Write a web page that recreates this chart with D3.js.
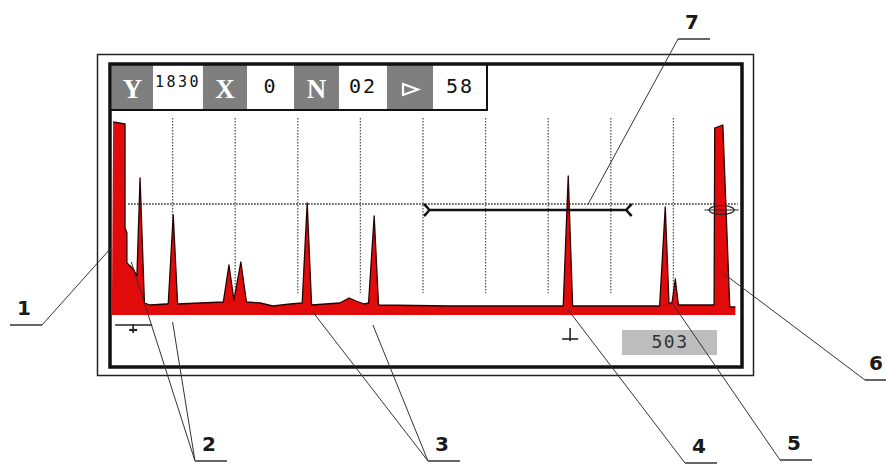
<!DOCTYPE html>
<html lang="en">
<head>
	<meta charset="utf-8">
	<title>Flaw detector A-scan</title>
	<script src="https://d3js.org/d3.v7.min.js"></script>
	<style>
		body { margin: 0; background: #fff; }
		svg { display: block; }
	</style>
</head>
<body>
<script>
	// screen values (x in grid divisions, y in % screen height)
	var traceX = [0.03, 0.05, 0.24, 0.24, 0.27, 0.27, 0.34, 0.38, 0.43, 0.48, 0.55, 0.64, 0.90, 0.93, 1.01, 1.08,
		1.81, 1.90, 1.98, 2.09, 2.18, 2.40, 2.60, 2.88, 3.07, 3.15, 3.22, 3.67, 3.82, 3.93, 4.06, 4.13, 4.22, 4.29,
		5.43, 7.24, 7.32, 7.39, 8.78, 8.87, 8.93, 8.98, 9.03, 9.08, 9.65, 9.66, 9.79, 9.90, 9.99];
	var traceY = [0, 96.5, 95.5, 43.5, 41, 26, 24, 22.5, 19.5, 68.5, 6, 5, 5.5, 5.5, 50, 5.5,
		6.5, 25, 7.5, 26.5, 6.5, 6, 4.5, 5.5, 6, 56, 5, 6, 8.5, 7, 5.5, 6, 49.5, 5,
		4.5, 4.5, 69.5, 4.5, 4.5, 54, 5.5, 6.5, 18, 5, 5, 93.5, 95, 4, 4];
	var gridDivs = [1, 2, 3, 4, 5, 6, 7, 8, 9];
	var thresholdLevel = 55.5;
	var gateStart = 5.08, gateEnd = 8.27, gateLevel = 52.5;
	var cursorDiv = 9.77, cursorLevel = 52.5;
	var baseMarkers = [0.37, 7.35];

	// header readout
	var headerLabels = ["Y", "1830", "X", "0", "N", "02", "\u25B7", "58"];
	var headerIsKey = [true, false, true, false, true, false, true, false];
	var readout = "503";

	// callouts: label, text position, targets in [div, level]
	var callLabels = ["1", "2", "3", "4", "5", "6", "7"];
	var callAnchors = [[42, 325, -1], [195, 461, 1], [428, 461, 1], [685, 463, 1], [780, 460, 1], [865, 380, 1], [678, 39, 1]];
	var callTargets = [
		[[0.03, 34]],
		[[0.34, 26.5], [1.0, -3.5]],
		[[3.24, 1.5], [4.2, -5]],
		[[7.32, 2.5]],
		[[8.98, 6]],
		[[9.79, 21]],
		[[7.63, 55]]
	];

	var w = 886, h = 464;
	var svg = d3.select("body").append("svg")
		.attr("width", w)
		.attr("height", h);

	var x = d3.scaleLinear().domain([0, 10]).range([110, 736]);
	var y = d3.scaleLinear().domain([0, 100]).range([315, 115]);

	// frames
	svg.append("rect")
		.attr("x", 97.5).attr("y", 54.5).attr("width", 656).attr("height", 321)
		.attr("fill", "none").attr("stroke", "#222").attr("stroke-width", 1.5);

	// grid
	svg.append("g").selectAll("line")
		.data(gridDivs)
		.enter().append("line")
		.attr("x1", function(d){ return x(d); })
		.attr("x2", function(d){ return x(d); })
		.attr("y1", y(98.5))
		.attr("y2", y(11))
		.attr("stroke", "#555")
		.attr("stroke-width", 1.3)
		.attr("stroke-dasharray", "1.5,1.5");

	svg.append("line")
		.attr("x1", x(0.29)).attr("x2", x(10.03))
		.attr("y1", y(thresholdLevel)).attr("y2", y(thresholdLevel))
		.attr("stroke", "#222").attr("stroke-width", 1.3)
		.attr("stroke-dasharray", "1.5,1.5");

	// trace
	var pts = traceX.map(function(d, i){ return [d, traceY[i]]; });
	var area = d3.area()
		.x(function(d){ return x(d[0]); })
		.y0(y(0))
		.y1(function(d){ return y(d[1]); });
	var line = d3.line()
		.x(function(d){ return x(d[0]); })
		.y(function(d){ return y(d[1]); });

	svg.append("path")
		.datum(pts)
		.attr("d", area)
		.attr("fill", "#e10b0b");
	svg.append("path")
		.datum(pts.slice(1))
		.attr("d", line)
		.attr("fill", "none")
		.attr("stroke", "#2a0000")
		.attr("stroke-width", 1.3)
		.attr("stroke-linejoin", "round");

	// gate
	var gy = y(gateLevel);
	svg.append("line")
		.attr("x1", x(gateStart)).attr("x2", x(gateEnd))
		.attr("y1", gy).attr("y2", gy)
		.attr("stroke", "#111").attr("stroke-width", 2.5);
	svg.append("path")
		.attr("d", "M" + (x(gateStart) - 4) + "," + (gy - 6) + " Q" + (x(gateStart) + 1) + "," + (gy - 1) + " " + (x(gateStart) + 1) + "," + gy
			+ " Q" + (x(gateStart) + 1) + "," + (gy + 1) + " " + (x(gateStart) - 4) + "," + (gy + 6))
		.attr("fill", "none").attr("stroke", "#111").attr("stroke-width", 2.5);
	svg.append("path")
		.attr("d", "M" + (x(gateEnd) + 4) + "," + (gy - 6) + " Q" + (x(gateEnd) - 1) + "," + (gy - 1) + " " + (x(gateEnd) - 1) + "," + gy
			+ " Q" + (x(gateEnd) - 1) + "," + (gy + 1) + " " + (x(gateEnd) + 4) + "," + (gy + 6))
		.attr("fill", "none").attr("stroke", "#111").attr("stroke-width", 2.5);

	// cursor ellipse
	svg.append("ellipse")
		.attr("cx", x(cursorDiv)).attr("cy", y(cursorLevel))
		.attr("rx", 12.5).attr("ry", 4.5)
		.attr("fill", "none").attr("stroke", "#222").attr("stroke-width", 1.2);
	svg.append("line")
		.attr("x1", x(cursorDiv) - 17).attr("x2", x(cursorDiv) + 17)
		.attr("y1", y(cursorLevel)).attr("y2", y(cursorLevel))
		.attr("stroke", "#222").attr("stroke-width", 1.2);

	// base markers
	var mk = svg.append("g").selectAll("g")
		.data(baseMarkers)
		.enter().append("g")
		.attr("stroke", "#222");
	mk.append("line")
		.attr("x1", function(d, i){ return x(d) - (i == 0 ? 18 : 8); })
		.attr("x2", function(d, i){ return x(d) + (i == 0 ? 19 : 8); })
		.attr("y1", function(d, i){ return i == 0 ? 325 : 339; })
		.attr("y2", function(d, i){ return i == 0 ? 325 : 339; })
		.attr("stroke-width", 1.6);
	mk.append("line")
		.attr("x1", function(d){ return x(d); })
		.attr("x2", function(d){ return x(d); })
		.attr("y1", function(d, i){ return i == 0 ? 324 : 328; })
		.attr("y2", function(d, i){ return i == 0 ? 333 : 341; })
		.attr("stroke-width", 1.6);
	mk.filter(function(d, i){ return i == 0; }).append("line")
		.attr("x1", function(d){ return x(d) - 4; })
		.attr("x2", function(d){ return x(d) + 4; })
		.attr("y1", 330).attr("y2", 330)
		.attr("stroke-width", 2.2);

	// readout box
	svg.append("rect")
		.attr("x", 622).attr("y", 330).attr("width", 95).attr("height", 25)
		.attr("fill", "#bdbdbd");
	svg.append("text")
		.attr("x", 670).attr("y", 348)
		.attr("text-anchor", "middle")
		.attr("font-family", "'DejaVu Sans Mono', monospace")
		.attr("font-size", 18)
		.attr("letter-spacing", 1.5)
		.attr("fill", "#333")
		.text(readout);

	// header
	var edges = [112, 153, 203, 247, 294, 339, 387, 433, 487];
	var head = svg.append("g");
	head.selectAll("rect")
		.data(headerLabels)
		.enter().append("rect")
		.attr("x", function(d, i){ return edges[i]; })
		.attr("y", 65)
		.attr("width", function(d, i){ return edges[i + 1] - edges[i]; })
		.attr("height", 45)
		.attr("fill", function(d, i){ return headerIsKey[i] ? "#7f7f7f" : "#fff"; });
	head.selectAll("text")
		.data(headerLabels)
		.enter().filter(function(d, i){ return d != "\u25B7"; })
		.append("text")
		.attr("x", function(d){ var i = headerLabels.indexOf(d); return d == "1830" ? 155 : (edges[i] + edges[i + 1]) / 2; })
		.attr("y", function(d){ return d == "1830" ? 87 : (headerIsKey[headerLabels.indexOf(d)] ? 98 : 93); })
		.attr("text-anchor", function(d){ return d == "1830" ? "start" : "middle"; })
		.attr("font-family", function(d){ return headerIsKey[headerLabels.indexOf(d)] ? "'Liberation Serif', serif" : "'DejaVu Sans Mono', monospace"; })
		.attr("font-weight", function(d){ return headerIsKey[headerLabels.indexOf(d)] ? "bold" : "normal"; })
		.attr("font-size", function(d){ return headerIsKey[headerLabels.indexOf(d)] ? 27 : (d == "1830" ? 15 : 20); })
		.attr("letter-spacing", function(d){ return d == "1830" ? 2.5 : (headerIsKey[headerLabels.indexOf(d)] ? 0 : 2); })
		.attr("fill", function(d){ return headerIsKey[headerLabels.indexOf(d)] ? "#fff" : "#111"; })
		.text(function(d){ return d; });
	// play triangle
	var ti = headerLabels.indexOf("\u25B7");
	var tc = (edges[ti] + edges[ti + 1]) / 2;
	head.append("path")
		.attr("d", "M" + (tc - 7) + ",84 L" + (tc + 8) + ",89.5 L" + (tc - 7) + ",95 Z")
		.attr("fill", "none").attr("stroke", "#fff").attr("stroke-width", 2.2);
	head.append("path")
		.attr("d", "M111,110 H487 V64")
		.attr("fill", "none").attr("stroke", "#111").attr("stroke-width", 2);

	svg.append("rect")
		.attr("x", 110).attr("y", 64).attr("width", 632).attr("height", 303)
		.attr("fill", "none").attr("stroke", "#111").attr("stroke-width", 3.5);

	// callouts
	var co = svg.append("g").selectAll("g")
		.data(callLabels)
		.enter().append("g");
	co.each(function(d, i){
		var g = d3.select(this);
		var a = callAnchors[i];
		callTargets[i].forEach(function(t){
			g.append("line")
				.attr("x1", a[0]).attr("y1", a[1])
				.attr("x2", x(t[0])).attr("y2", y(t[1]))
				.attr("stroke", "#333").attr("stroke-width", 1);
		});
		var ux = a[2] < 0 ? a[0] - 32 : a[0];
		g.append("line")
			.attr("x1", ux).attr("x2", ux + (i == 5 ? 21 : 32))
			.attr("y1", a[1]).attr("y2", a[1])
			.attr("stroke", "#666").attr("stroke-width", 2);
		g.append("text")
			.attr("x", ux + (i == 5 ? 11 : 14))
			.attr("y", a[1] - 10)
			.attr("text-anchor", "middle")
			.attr("font-family", "'DejaVu Sans', sans-serif")
			.attr("font-weight", "bold")
			.attr("font-size", 20)
			.attr("fill", "#1a1a1a")
			.text(d);
	});
</script>
</body>
</html>
